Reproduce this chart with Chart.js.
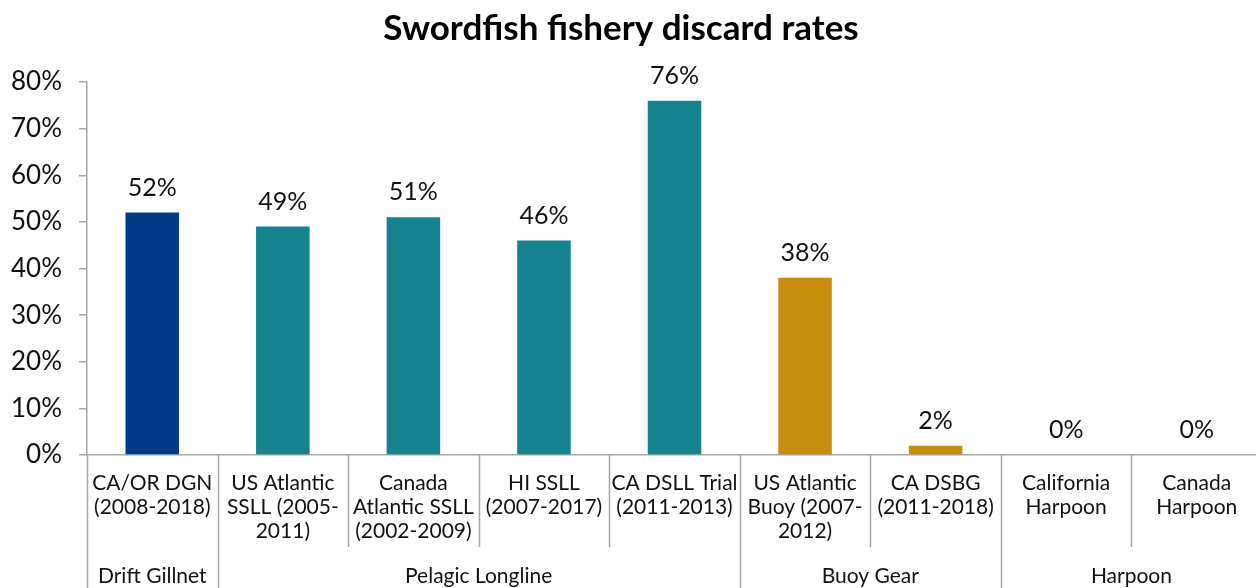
<!DOCTYPE html>
<html>
<head>
<meta charset="utf-8">
<script src="https://cdn.jsdelivr.net/npm/chart.js@4/dist/chart.umd.min.js"></script>
<style>
  html, body { margin: 0; padding: 0; background: #fff; overflow: hidden; }
  #clip { width: 1256px; height: 588px; overflow: hidden; }
  #wrap { width: 1262px; height: 588px; }
</style>
</head>
<body>
<div id="clip"><div id="wrap"><canvas id="discardChart"></canvas></div></div>
<script>
// Swordfish discard rates by fishery, grouped by gear type
const fisheries = [
    ['CA/OR DGN', '(2008-2018)'],
    ['US Atlantic', 'SSLL (2005-', '2011)'],
    ['Canada', 'Atlantic SSLL', '(2002-2009)'],
    ['HI SSLL', '(2007-2017)'],
    ['CA DSLL Trial', '(2011-2013)'],
    ['US Atlantic', 'Buoy (2007-', '2012)'],
    ['CA DSBG', '(2011-2018)'],
    ['California', 'Harpoon'],
    ['Canada', 'Harpoon']
];
const discardRates = [52, 49, 51, 46, 76, 38, 2, 0, 0];
const gearGroups = ['Drift Gillnet', 'Pelagic Longline', 'Buoy Gear', 'Harpoon'];
const groupSizes = [1, 4, 2, 2];
const groupColors = ['#023a86', '#14838f', '#c98e0f', '#c98e0f'];
const yTicks = [0, 10, 20, 30, 40, 50, 60, 70, 80];
const chartTitle = 'Swordfish fishery discard rates';

const FONT = 'Lato, "Open Sans", sans-serif';
const AXIS_GRAY = '#a6a6a6';

// colour of each bar comes from its gear group
const barColors = [];
groupSizes.forEach((n, g) => { for (let k = 0; k < n; k++) barColors.push(groupColors[g]); });

// title, value labels above bars, category / group separators under the axis
const groupAxisPlugin = {
    id: 'groupAxis',
    afterDatasetsDraw(chart) {
        const ctx = chart.ctx;
        const meta = chart.getDatasetMeta(0);
        ctx.save();
        ctx.fillStyle = '#111';
        ctx.font = '25px ' + FONT;
        ctx.textAlign = 'center';
        ctx.textBaseline = 'alphabetic';
        meta.data.forEach((bar, i) => {
            ctx.fillText(discardRates[i] + '%', bar.x, bar.y - 17);
        });
        ctx.restore();
    },
    afterDraw(chart) {
        const ctx = chart.ctx;
        const x = chart.scales.x;
        const n = fisheries.length;
        const step = (x.right - x.left) / n;
        const top = x.top;
        const bottom = chart.height;
        const catBottom = top + 92;

        ctx.save();
        ctx.fillStyle = '#000';
        ctx.font = 'bold 35px ' + FONT;
        ctx.textAlign = 'center';
        ctx.textBaseline = 'middle';
        ctx.fillText(chartTitle, 621, 29);

        const groupEdges = new Set([0]);
        let acc = 0;
        groupSizes.forEach(s => { acc += s; groupEdges.add(acc); });

        ctx.strokeStyle = AXIS_GRAY;
        ctx.lineWidth = 1.5;
        for (let i = 0; i <= n; i++) {
            const px = Math.round(x.left + i * step) + 0.5;
            const end = groupEdges.has(i) ? bottom : catBottom;
            ctx.beginPath();
            ctx.moveTo(px, top);
            ctx.lineTo(px, end);
            ctx.stroke();
        }

        ctx.fillStyle = '#111';
        ctx.font = '21px ' + FONT;
        let start = 0;
        gearGroups.forEach((name, g) => {
            const cx = x.left + (start + groupSizes[g] / 2) * step;
            ctx.fillText(name, cx, 576);
            start += groupSizes[g];
        });
        ctx.restore();
    }
};

const ctxDiscard = document.getElementById('discardChart').getContext('2d');
const discardChart = new Chart(ctxDiscard, {
    type: 'bar',
    data: {
        labels: fisheries,
        datasets: [{
            label: 'Discard rate',
            data: discardRates,
            backgroundColor: barColors,
            borderWidth: 0,
            categoryPercentage: 1,
            barPercentage: 0.41
        }]
    },
    options: {
        responsive: true,
        maintainAspectRatio: false,
        animation: false,
        layout: { padding: { top: 82, right: 0, bottom: 0, left: 0 } },
        plugins: {
            legend: { display: false },
            tooltip: { enabled: false },
            title: { display: false }
        },
        scales: {
            x: {
                afterFit(scale) { scale.height = 133; },
                grid: { display: false, drawTicks: false },
                border: { display: true, color: AXIS_GRAY, width: 1.5 },
                ticks: {
                    color: '#111',
                    font: { family: FONT, size: 21, lineHeight: 1.143 },
                    padding: 16,
                    autoSkip: false,
                    maxRotation: 0,
                    minRotation: 0
                }
            },
            y: {
                min: 0,
                max: 80,
                afterBuildTicks(scale) {
                    scale.ticks = yTicks.map(v => ({ value: v }));
                },
                afterFit(scale) { scale.width = 87; },
                grid: { drawOnChartArea: false, drawTicks: true, tickLength: 8, color: AXIS_GRAY, lineWidth: 1.5 },
                border: { display: true, color: AXIS_GRAY, width: 1.5 },
                ticks: {
                    color: '#111',
                    font: { family: FONT, size: 26 },
                    padding: 17,
                    callback: v => v + '%'
                }
            }
        }
    },
    plugins: [groupAxisPlugin]
});
</script>
</body>
</html>
